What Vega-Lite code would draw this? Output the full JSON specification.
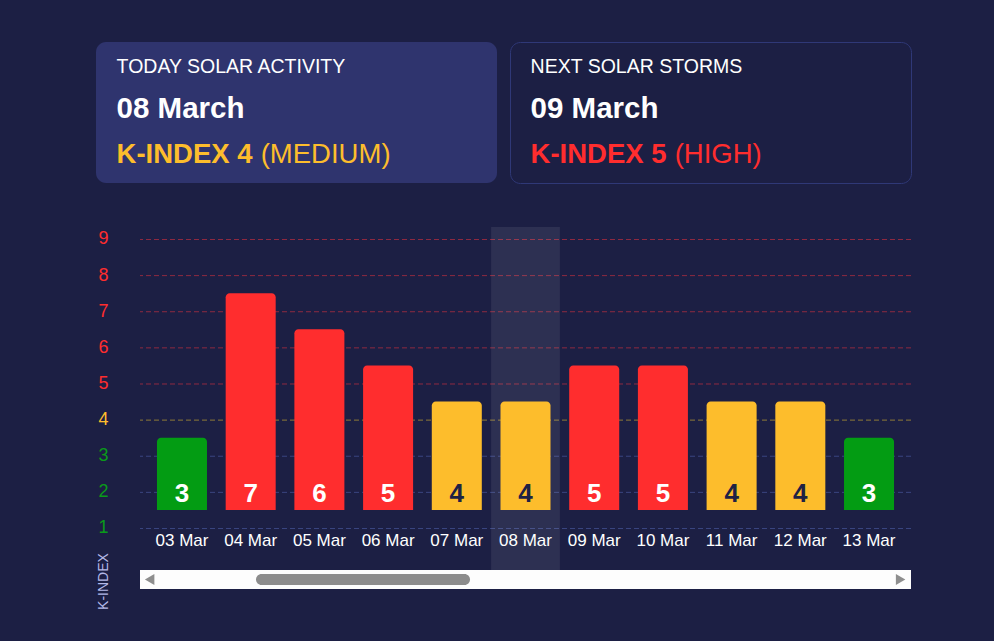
{
  "$schema": "https://vega.github.io/schema/vega-lite/v6.json",
  "background": "#1c1f44",
  "padding": {"left": 96, "top": 41, "right": 83, "bottom": 32},
  "spacing": 43,
  "config": {"font": "Liberation Sans", "view": {"stroke": null}},
  "datasets": {
    "kindex": [
      {"date": "03 Mar", "k": 3},
      {"date": "04 Mar", "k": 7},
      {"date": "05 Mar", "k": 6},
      {"date": "06 Mar", "k": 5},
      {"date": "07 Mar", "k": 4},
      {"date": "08 Mar", "k": 4},
      {"date": "09 Mar", "k": 5},
      {"date": "10 Mar", "k": 5},
      {"date": "11 Mar", "k": 4},
      {"date": "12 Mar", "k": 4},
      {"date": "13 Mar", "k": 3}
    ],
    "levels": [
      {"level": 1}, {"level": 2}, {"level": 3}, {"level": 4}, {"level": 5},
      {"level": 6}, {"level": 7}, {"level": 8}, {"level": 9}
    ],
    "cards": [
      {"card": "today", "row": "title", "part": "label", "text": "TODAY SOLAR ACTIVITY"},
      {"card": "today", "row": "date", "part": "label", "text": "08 March"},
      {"card": "today", "row": "kindex", "part": "label", "text": "K-INDEX 4"},
      {"card": "today", "row": "kindex", "part": "level", "text": "(MEDIUM)"},
      {"card": "next", "row": "title", "part": "label", "text": "NEXT SOLAR STORMS"},
      {"card": "next", "row": "date", "part": "label", "text": "09 March"},
      {"card": "next", "row": "kindex", "part": "label", "text": "K-INDEX 5"},
      {"card": "next", "row": "kindex", "part": "level", "text": "(HIGH)"}
    ]
  },
  "vconcat": [
    {
      "spacing": 12,
      "hconcat": [
        {
          "width": 401,
          "height": 141,
          "view": {"fill": "#2f346e", "stroke": null, "cornerRadius": 10},
          "data": {"name": "cards"},
          "transform": [{"filter": "datum.card == 'today'"}],
          "encoding": {
            "x": {"field": "part", "type": "nominal", "scale": {"type": "point", "domain": ["label", "level"], "range": [20.6, 164.7], "padding": 0}, "axis": null},
            "y": {"field": "row", "type": "nominal", "scale": {"type": "point", "domain": ["title", "date", "kindex"], "range": [30.7, 120.7], "padding": 0}, "axis": null},
            "text": {"field": "text"}
          },
          "layer": [
            {"transform": [{"filter": "datum.row == 'title'"}], "mark": {"type": "text", "align": "left", "baseline": "alphabetic", "fontSize": 19.5, "color": "#ffffff"}},
            {"transform": [{"filter": "datum.row == 'date'"}], "mark": {"type": "text", "align": "left", "baseline": "alphabetic", "fontSize": 29.5, "fontWeight": "bold", "color": "#ffffff"}},
            {"transform": [{"filter": "datum.row == 'kindex' && datum.part == 'label'"}], "mark": {"type": "text", "align": "left", "baseline": "alphabetic", "fontSize": 27.5, "fontWeight": "bold", "color": "#fdbd2c"}},
            {"transform": [{"filter": "datum.row == 'kindex' && datum.part == 'level'"}], "mark": {"type": "text", "align": "left", "baseline": "alphabetic", "fontSize": 27.5, "color": "#fdbd2c"}}
          ]
        },
        {
          "width": 401,
          "height": 141,
          "view": {"fill": "#1c1f44", "stroke": "#2f3877", "strokeWidth": 1, "cornerRadius": 10},
          "data": {"name": "cards"},
          "transform": [{"filter": "datum.card == 'next'"}],
          "encoding": {
            "x": {"field": "part", "type": "nominal", "scale": {"type": "point", "domain": ["label", "level"], "range": [20.6, 164.7], "padding": 0}, "axis": null},
            "y": {"field": "row", "type": "nominal", "scale": {"type": "point", "domain": ["title", "date", "kindex"], "range": [30.7, 120.7], "padding": 0}, "axis": null},
            "text": {"field": "text"}
          },
          "layer": [
            {"transform": [{"filter": "datum.row == 'title'"}], "mark": {"type": "text", "align": "left", "baseline": "alphabetic", "fontSize": 19.5, "color": "#ffffff"}},
            {"transform": [{"filter": "datum.row == 'date'"}], "mark": {"type": "text", "align": "left", "baseline": "alphabetic", "fontSize": 29.5, "fontWeight": "bold", "color": "#ffffff"}},
            {"transform": [{"filter": "datum.row == 'kindex' && datum.part == 'label'"}], "mark": {"type": "text", "align": "left", "baseline": "alphabetic", "fontSize": 27.5, "fontWeight": "bold", "color": "#ff2d2e"}},
            {"transform": [{"filter": "datum.row == 'kindex' && datum.part == 'level'"}], "mark": {"type": "text", "align": "left", "baseline": "alphabetic", "fontSize": 27.5, "color": "#ff2d2e"}}
          ]
        }
      ]
    },
    {
      "spacing": -1,
      "hconcat": [
        {
          "width": 1,
          "height": 1,
          "data": {"values": []},
          "mark": {"type": "point", "opacity": 0}
        },
        {
          "width": 771,
          "height": 343,
          "data": {"name": "kindex"},
          "resolve": {"scale": {"x": "independent"}},
          "layer": [
            {
              "layer": [
                {
                  "data": {"name": "levels"},
                  "mark": {"type": "rule", "strokeDash": [5, 3], "strokeWidth": 1, "yOffset": 0.5},
                  "encoding": {
                    "y": {"field": "level", "type": "quantitative", "scale": {"domain": [-0.163, 9.332], "nice": false, "zero": false}},
                    "color": {"field": "level", "type": "quantitative", "scale": {"type": "threshold", "domain": [3.5, 4.5], "range": ["#3a4580", "#8e7a38", "#8e2a40"]}, "legend": null}
                  }
                },
                {
                  "transform": [{"filter": "datum.date == '08 Mar'"}],
                  "mark": {"type": "bar", "color": "#ffffff", "opacity": 0.08},
                  "encoding": {
                    "x": {"field": "date", "type": "ordinal", "sort": null, "scale": {"type": "band", "domain": ["03 Mar", "04 Mar", "05 Mar", "06 Mar", "07 Mar", "08 Mar", "09 Mar", "10 Mar", "11 Mar", "12 Mar", "13 Mar"], "paddingInner": 0, "paddingOuter": 0.111}},
                    "y": {"datum": 9.332, "type": "quantitative", "scale": {"domain": [-0.163, 9.332], "nice": false, "zero": false}},
                    "y2": {"datum": -0.163}
                  }
                },
                {
                  "mark": {"type": "bar", "width": {"band": 0.728}, "yOffset": -18.06, "y2Offset": -18.06, "cornerRadiusTopLeft": 4, "cornerRadiusTopRight": 4},
                  "encoding": {
                    "x": {
                      "field": "date", "type": "ordinal", "sort": null,
                      "scale": {"type": "band", "domain": ["03 Mar", "04 Mar", "05 Mar", "06 Mar", "07 Mar", "08 Mar", "09 Mar", "10 Mar", "11 Mar", "12 Mar", "13 Mar"], "paddingInner": 0, "paddingOuter": 0.111},
                      "axis": {"title": null, "labelColor": "#ffffff", "labelFontSize": 17, "labelAngle": 0, "labelAlign": "center", "labelBaseline": "alphabetic", "labelPadding": -24.3, "ticks": false, "tickSize": 0, "domain": false, "grid": false}
                    },
                    "y": {
                      "field": "k", "type": "quantitative",
                      "scale": {"domain": [-0.163, 9.332], "nice": false, "zero": false},
                      "axis": {
                        "title": "K-INDEX", "titleColor": "#b4b9e8", "titleFontSize": 14, "titleFontWeight": "normal",
                        "titleAngle": -90, "titleX": -37, "titleY": 354, "titleAlign": "center", "titleBaseline": "middle",
                        "values": [1, 2, 3, 4, 5, 6, 7, 8, 9],
                        "ticks": false, "tickSize": 0, "domain": false, "grid": false,
                        "labelPadding": 32, "labelFontSize": 18, "labelBaseline": "middle", "labelAlign": "right",
                        "labelColor": {"condition": [{"test": "datum.value >= 5", "value": "#ff2d2e"}, {"test": "datum.value == 4", "value": "#fdbd2c"}], "value": "#0a9a1a"}
                      }
                    },
                    "y2": {"datum": 1},
                    "color": {"condition": [{"test": "datum.k >= 5", "value": "#ff2d2e"}, {"test": "datum.k == 4", "value": "#fdbd2c"}], "value": "#039c13"}
                  }
                },
                {
                  "mark": {"type": "text", "fontSize": 26, "fontWeight": "bold", "baseline": "alphabetic", "align": "center", "dy": -26},
                  "encoding": {
                    "x": {"field": "date", "type": "ordinal", "sort": null, "scale": {"type": "band", "domain": ["03 Mar", "04 Mar", "05 Mar", "06 Mar", "07 Mar", "08 Mar", "09 Mar", "10 Mar", "11 Mar", "12 Mar", "13 Mar"], "paddingInner": 0, "paddingOuter": 0.111}},
                    "y": {"datum": 1, "type": "quantitative", "scale": {"domain": [-0.163, 9.332], "nice": false, "zero": false}},
                    "text": {"field": "k", "type": "quantitative"},
                    "color": {"condition": {"test": "datum.k == 4", "value": "#1f2244"}, "value": "#ffffff"}
                  }
                }
              ]
            },
            {
              "data": {"values": [{}]},
              "layer": [
                {
                  "mark": {"type": "rect", "color": "#fdfdfd"},
                  "encoding": {
                    "x": {"datum": 0, "type": "quantitative", "scale": {"domain": [0, 1], "nice": false, "zero": false}, "axis": null},
                    "x2": {"datum": 1},
                    "y": {"datum": -0.163, "type": "quantitative", "scale": {"domain": [-0.163, 9.332], "nice": false, "zero": false}},
                    "y2": {"datum": -0.689}
                  }
                },
                {
                  "mark": {"type": "rect", "color": "#8c8c8c", "cornerRadius": 5.5},
                  "encoding": {
                    "x": {"datum": 0.1505, "type": "quantitative", "scale": {"domain": [0, 1], "nice": false, "zero": false}, "axis": null},
                    "x2": {"datum": 0.428},
                    "y": {"datum": -0.274, "type": "quantitative", "scale": {"domain": [-0.163, 9.332], "nice": false, "zero": false}},
                    "y2": {"datum": -0.578}
                  }
                },
                {
                  "mark": {"type": "point", "shape": "triangle-left", "filled": true, "color": "#8e8e8e", "opacity": 1, "size": 120},
                  "encoding": {
                    "x": {"datum": 0.0125, "type": "quantitative", "scale": {"domain": [0, 1], "nice": false, "zero": false}, "axis": null},
                    "y": {"datum": -0.426, "type": "quantitative", "scale": {"domain": [-0.163, 9.332], "nice": false, "zero": false}}
                  }
                },
                {
                  "mark": {"type": "point", "shape": "triangle-right", "filled": true, "color": "#8e8e8e", "opacity": 1, "size": 120},
                  "encoding": {
                    "x": {"datum": 0.9865, "type": "quantitative", "scale": {"domain": [0, 1], "nice": false, "zero": false}, "axis": null},
                    "y": {"datum": -0.426, "type": "quantitative", "scale": {"domain": [-0.163, 9.332], "nice": false, "zero": false}}
                  }
                }
              ]
            }
          ]
        }
      ]
    }
  ]
}
